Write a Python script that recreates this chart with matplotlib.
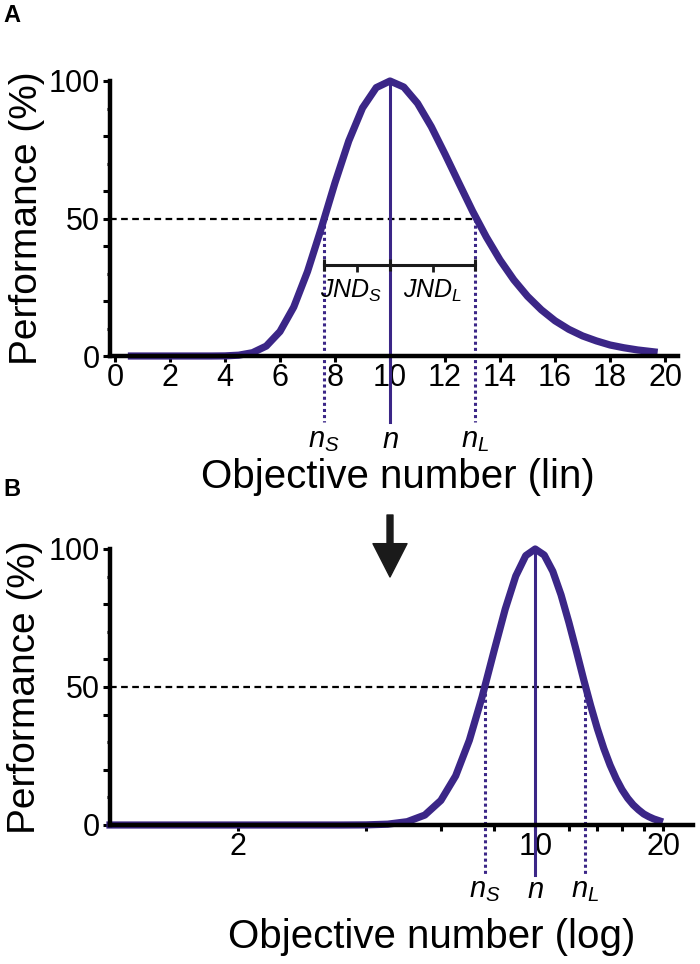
import matplotlib
matplotlib.use("Agg")
import matplotlib.pyplot as plt
import numpy as np
from matplotlib.lines import TICKLEFT
from matplotlib.ticker import FixedLocator, NullFormatter, FixedFormatter

plt.rcParams['font.family'] = ['Liberation Sans', 'DejaVu Sans']
plt.rcParams['mathtext.fontset'] = 'custom'
plt.rcParams['mathtext.rm'] = 'Liberation Sans'
plt.rcParams['mathtext.it'] = 'Liberation Sans:italic'

# tuning curve (objective number -> % performance)
number = np.array([0.6, 1, 2, 3, 3.5, 4, 4.5, 5, 5.5, 6, 6.5, 7, 7.5, 8, 8.5, 9, 9.5,
                   10, 10.5, 11, 11.5, 12, 12.5, 13, 13.5, 14, 14.5, 15, 15.5, 16,
                   16.5, 17, 17.5, 18, 18.5, 19, 19.6])
performance = np.array([0, 0, 0, 0, 0, 0.04, 0.3, 1.2, 3.6, 8.9, 17.8, 30.7, 46.4, 63.0,
                        78.2, 90.2, 97.6, 100, 97.8, 91.9, 83.4, 73.4, 63.0, 52.7, 43.3,
                        34.9, 27.7, 21.7, 16.8, 12.8, 9.7, 7.3, 5.5, 4.0, 3.0, 2.2, 1.5])

n_small = 7.6
n_center = 10
n_large = 13.1
half_level = 50
jnd_level = 33

lin_ticks = list(range(0, 21, 2))
log_ticks = [2, 10, 20]
log_minor = [4, 6, 8, 12, 14, 16, 18]
y_ticks = [0, 50, 100]
y_minor = [20, 40, 60, 80]
y_tiny = [10, 30, 70, 90]

PURPLE = '#3b2687'
W, H = 700, 964

fig = plt.figure(figsize=(W / 100, H / 100), dpi=100)


def px_axes(left, right, top, bottom):
    return fig.add_axes([left / W, 1 - bottom / H, (right - left) / W, (bottom - top) / H])


def style_axes(ax):
    for side in ("top", "right"):
        ax.spines[side].set_visible(False)
    for side in ("left", "bottom"):
        ax.spines[side].set_linewidth(3.2)
        ax.spines[side].set_capstyle('projecting')
    ax.set_ylim(0, 100)
    ax.set_yticks(y_ticks)
    ax.yaxis.set_minor_locator(FixedLocator(y_minor))
    ax.tick_params(which='both', direction='out', width=2.2, length=5, labelsize=22, color='black')
    ax.tick_params(axis='y', which='both', pad=2)
    ax.tick_params(axis='x', which='both', length=4, pad=1)
    ax.plot(np.zeros(len(y_tiny)), y_tiny, linestyle='none', marker=TICKLEFT, markersize=2,
            markeredgewidth=2.2, color='black', clip_on=False, transform=ax.get_yaxis_transform())
    ax.set_ylabel('Performance (%)', fontsize=28)
    ax.yaxis.set_label_coords(-0.115, 0.5)


def draw_markers(ax, x, y, x_lo, line_bottom, label_y):
    ax.plot([x_lo, n_large], [half_level, half_level], color='black', lw=1.6,
            dashes=(3, 2), zorder=1.5)
    ax.plot([n_center, n_center], [performance.max(), line_bottom], color=PURPLE, lw=2.2,
            clip_on=False, zorder=1.8)
    for nx in (n_small, n_large):
        ax.plot([nx, nx], [half_level, line_bottom], color=PURPLE, lw=2.2, linestyle=(0, (1, 1)),
                clip_on=False, zorder=1.8)
    ax.plot(x, y, color=PURPLE, lw=5.2, solid_joinstyle='round', clip_on=False, zorder=2)
    for nx, txt in ((n_small, r'$n_S$'), (n_center, r'$n$'), (n_large, r'$n_L$')):
        ax.text(nx, label_y, txt, fontsize=21, ha='center', va='center', clip_on=False)


# Panel A: linear axis
ax_a = px_axes(110, 678, 81, 356)
style_axes(ax_a)
lin_lo, lin_hi = -0.18, 20.47
ax_a.set_xlim(lin_lo, lin_hi)
ax_a.set_xticks(lin_ticks)
draw_markers(ax_a, number, performance, lin_lo, -24, -30.5)

# JND bar
ax_a.plot([n_small, n_large], [jnd_level, jnd_level], color='#1a1a1a', lw=2.2)
ax_a.plot([n_small, n_center, n_large], [jnd_level] * 3, linestyle='none', marker='|',
          markersize=9, markeredgewidth=2.2, color='#1a1a1a')
ax_a.plot([(n_small + n_center) / 2, (n_center + n_large) / 2], [jnd_level] * 2,
          linestyle='none', marker=3, markersize=5, markeredgewidth=2, color='#1a1a1a')
ax_a.text((n_small + n_center) / 2 - 0.2, 23.6, r'$JND_S$', fontsize=18, ha='center', va='center')
ax_a.text((n_center + n_large) / 2, 23.6, r'$JND_L$', fontsize=18, ha='center', va='center')

# Panel B: log axis
ax_b = px_axes(110, 693, 549, 825)
style_axes(ax_b)
log_lo, log_hi = 1.0, 23.5
ax_b.set_xscale('log')
ax_b.set_xlim(log_lo, log_hi)
ax_b.xaxis.set_major_locator(FixedLocator(log_ticks))
ax_b.xaxis.set_major_formatter(FixedFormatter([str(t) for t in log_ticks]))
ax_b.xaxis.set_minor_locator(FixedLocator(log_minor))
ax_b.xaxis.set_minor_formatter(NullFormatter())
ax_b.tick_params(axis='x', which='both', length=4, width=2.2, pad=1)
keep = number >= log_lo
draw_markers(ax_b, number[keep], performance[keep], log_lo, -18, -23.5)
for lab in ax_b.get_xticklabels():
    if lab.get_text() == '10':
        lab.set_bbox(dict(facecolor='white', edgecolor='none', pad=0))

fig.text(398 / W, 1 - 477 / H, 'Objective number (lin)', fontsize=29, ha='center', va='center')
fig.text(432 / W, 1 - 937 / H, 'Objective number (log)', fontsize=29, ha='center', va='center')
fig.text(3 / W, 1 - 15 / H, 'A', fontsize=17, fontweight='bold', ha='left', va='center')
fig.text(3 / W, 1 - 490 / H, 'B', fontsize=17, fontweight='bold', ha='left', va='center')

ax_b.annotate('', xy=(390, H - 577), xytext=(390, H - 515), xycoords='figure pixels',
              textcoords='figure pixels',
              arrowprops=dict(width=4.3, headwidth=24.5, headlength=24, color='#1a1a1a', shrink=0))

fig.savefig('out.png', dpi=100)
